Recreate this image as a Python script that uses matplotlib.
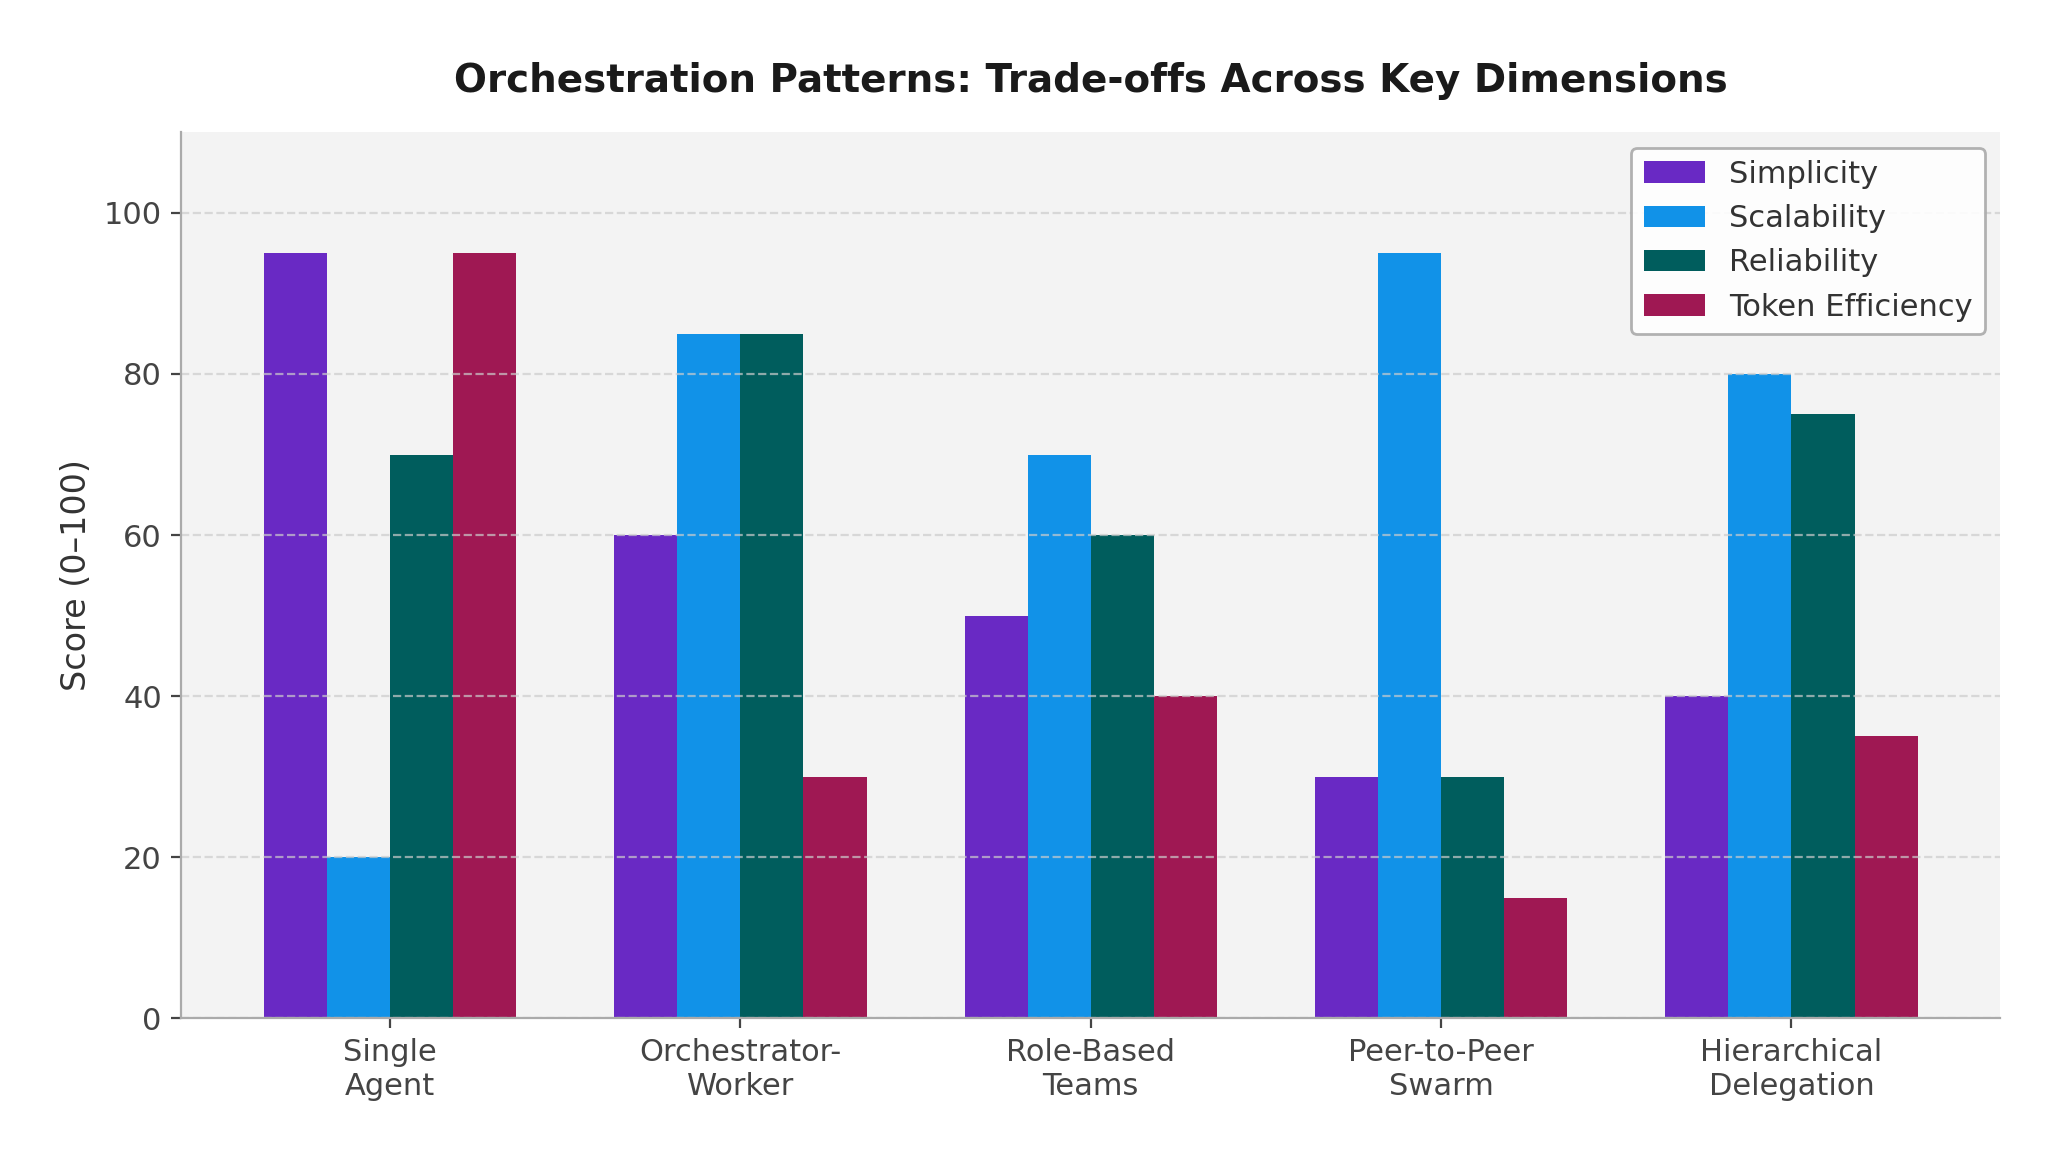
import matplotlib
matplotlib.use("Agg")
import matplotlib.pyplot as plt
import numpy as np

# Data
patterns = ["Single\nAgent", "Orchestrator-\nWorker", "Role-Based\nTeams", "Peer-to-Peer\nSwarm", "Hierarchical\nDelegation"]
simplicity = [95, 60, 50, 30, 40]
scalability = [20, 85, 70, 95, 80]
reliability = [70, 85, 60, 30, 75]
token_efficiency = [95, 30, 40, 15, 35]

series = [
    ("Simplicity", simplicity, "#6929c4"),
    ("Scalability", scalability, "#1192e8"),
    ("Reliability", reliability, "#005d5d"),
    ("Token Efficiency", token_efficiency, "#9f1853"),
]

fig, ax = plt.subplots(figsize=(10.3, 5.8), dpi=200)
fig.subplots_adjust(left=0.088, right=0.971, top=0.886, bottom=0.122)

x = np.arange(len(patterns))
width = 0.18
for i, (name, vals, color) in enumerate(series):
    ax.bar(x + (i - 1.5) * width, vals, width, label=name, color=color)

ax.set_facecolor("#f3f3f3")
ax.set_ylim(0, 110)
ax.set_xticks(x)
ax.set_xticklabels(patterns, fontsize=11, color="#444444")
ax.tick_params(axis="y", labelsize=11, labelcolor="#444444")
ax.tick_params(colors="#444444")
ax.set_ylabel("Score (0–100)", fontsize=12, color="#333333")
ax.set_title("Orchestration Patterns: Trade-offs Across Key Dimensions",
             fontsize=14, fontweight="bold", pad=14.5, color="#1a1a1a")

ax.yaxis.grid(True, linestyle="--", color="#cccccc", alpha=0.7)
for side in ["top", "right"]:
    ax.spines[side].set_visible(False)
for side in ["left", "bottom"]:
    ax.spines[side].set_color("#aaaaaa")

leg = ax.legend(loc="upper right", fontsize=11, framealpha=0.9, edgecolor="#aaaaaa")
for t in leg.get_texts():
    t.set_color("#333333")

plt.savefig("out.png")
